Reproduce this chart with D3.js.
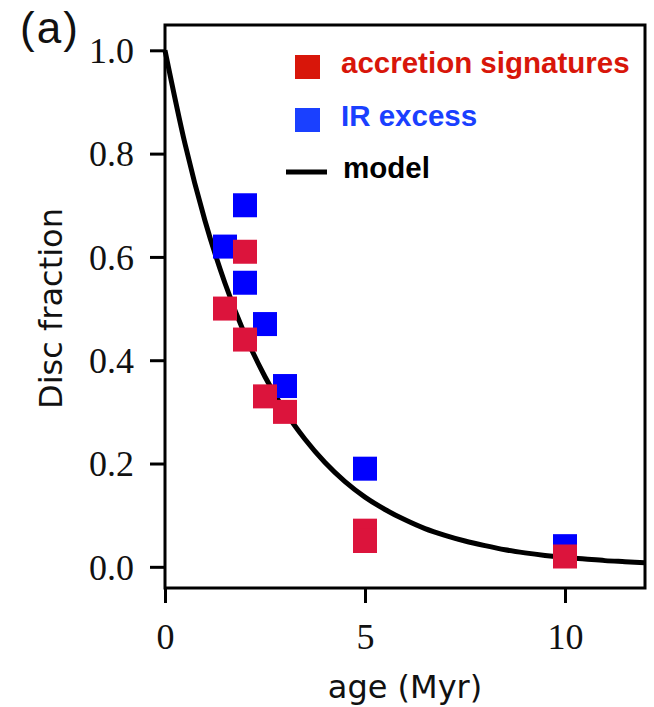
<!DOCTYPE html>
<html>
<head>
<meta charset="utf-8">
<script src="https://cdn.jsdelivr.net/npm/d3@7"></script>
<style>
  html, body { margin: 0; padding: 0; background: #fff; }
  svg { display: block; }
</style>
</head>
<body>
<svg id="chart" width="654" height="707"></svg>
<script>
// Disc fraction versus cluster age
const accretionAge = [1.5, 2.0, 2.0, 2.5, 3.0, 5.0, 5.0, 10.0];
const accretionFrac = [0.50, 0.61, 0.44, 0.33, 0.30, 0.07, 0.05, 0.02];

const irAge = [1.5, 2.0, 2.0, 2.5, 3.0, 5.0, 10.0];
const irFrac = [0.62, 0.70, 0.55, 0.47, 0.35, 0.19, 0.04];

// decay model sampled along age
const modelAge = [0, 0.5, 1, 1.5, 2, 2.5, 3, 3.5, 4, 4.5, 5, 5.5, 6, 6.5, 7, 7.5, 8, 8.5, 9, 9.5, 10, 10.5, 11, 11.5, 12];
const modelFrac = [1.000, 0.819, 0.670, 0.549, 0.449, 0.368, 0.301, 0.247, 0.202, 0.165, 0.135, 0.111, 0.091, 0.074, 0.061, 0.050, 0.041, 0.033, 0.027, 0.022, 0.018, 0.015, 0.012, 0.010, 0.008];

const xTicks = [0, 5, 10];
const yTicks = [0.0, 0.2, 0.4, 0.6, 0.8, 1.0];

const legendLabels = ["accretion signatures", "IR excess", "model"];

const svg = d3.select("#chart");
const plotLeft = 165, plotRight = 645, plotTop = 25, plotBottom = 588;

const x = d3.scaleLinear().domain([0, 12]).range([plotLeft, plotRight]);
const y = d3.scaleLinear().domain([-0.041, 1.049]).range([plotBottom, plotTop]);

const serif = "'Liberation Serif', 'Times New Roman', serif";
const sans = "'DejaVu Sans', sans-serif";
const helv = "'Liberation Sans', Arial, sans-serif";

// axes
const xAxis = d3.axisBottom(x).tickValues(xTicks).tickSize(15).tickPadding(8).tickFormat(d3.format("d"));
const yAxis = d3.axisLeft(y).tickValues(yTicks).tickSize(15).tickPadding(16).tickFormat(d3.format(".1f"));

const gx = svg.append("g").attr("transform", `translate(0,${plotBottom})`).call(xAxis);
const gy = svg.append("g").attr("transform", `translate(${plotLeft},0)`).call(yAxis);
[gx, gy].forEach(g => {
  g.select(".domain").remove();
  g.selectAll(".tick line").attr("stroke", "#000").attr("stroke-width", 3);
  g.selectAll(".tick text").attr("font-family", serif).attr("font-size", 36).attr("fill", "#111");
});
gx.selectAll(".tick text").attr("dy", null).attr("y", 61);
gy.selectAll(".tick text").attr("dy", "0.34em");

// model curve
const line = d3.line().x((d, i) => x(modelAge[i])).y(d => y(d)).curve(d3.curveMonotoneX);
svg.append("path")
  .datum(modelFrac)
  .attr("d", line)
  .attr("fill", "none")
  .attr("stroke", "#000")
  .attr("stroke-width", 5);

// markers: IR excess first, accretion drawn over it
const ms = 24;
svg.append("g").selectAll("rect")
  .data(irAge.map((a, i) => [a, irFrac[i]]))
  .join("rect")
  .attr("x", d => x(d[0]) - ms / 2)
  .attr("y", d => y(d[1]) - ms / 2)
  .attr("width", ms).attr("height", ms)
  .attr("fill", "#0000ff");

svg.append("g").selectAll("rect")
  .data(accretionAge.map((a, i) => [a, accretionFrac[i]]))
  .join("rect")
  .attr("x", d => x(d[0]) - ms / 2)
  .attr("y", d => y(d[1]) - ms / 2)
  .attr("width", ms).attr("height", ms)
  .attr("fill", "#dc143c");

// frame
svg.append("rect")
  .attr("x", plotLeft).attr("y", plotTop)
  .attr("width", plotRight - plotLeft).attr("height", plotBottom - plotTop)
  .attr("fill", "none").attr("stroke", "#000").attr("stroke-width", 3);

// legend
const legColors = ["#d8160a", "#1a40ff", "#000"];
const legBase = [73, 126, 178];
const leg = svg.append("g");
[0, 1].forEach(i => {
  leg.append("rect")
    .attr("x", 295).attr("y", legBase[i] - 18)
    .attr("width", 25).attr("height", 24)
    .attr("fill", legColors[i]);
});
leg.append("line")
  .attr("x1", 286).attr("x2", 327)
  .attr("y1", legBase[2] - 6).attr("y2", legBase[2] - 6)
  .attr("stroke", "#000").attr("stroke-width", 5);
legendLabels.forEach((t, i) => {
  leg.append("text")
    .attr("x", i === 2 ? 343 : 341).attr("y", legBase[i])
    .attr("font-family", helv)
    .attr("font-weight", "bold")
    .attr("font-size", 29.5)
    .attr("fill", legColors[i])
    .text(t);
});

// axis labels
svg.append("text")
  .attr("x", (plotLeft + plotRight) / 2).attr("y", 698)
  .attr("text-anchor", "middle")
  .attr("font-family", sans).attr("font-size", 32).attr("fill", "#111")
  .text("age (Myr)");

svg.append("text")
  .attr("transform", `translate(62,${(plotTop + plotBottom) / 2 + 2}) rotate(-90)`)
  .attr("text-anchor", "middle")
  .attr("font-family", sans).attr("font-size", 32).attr("fill", "#111")
  .text("Disc fraction");

// panel tag
svg.append("text")
  .attr("x", 20).attr("y", 43)
  .attr("font-family", helv)
  .attr("font-size", 44).attr("fill", "#111")
  .attr("textLength", 58).attr("lengthAdjust", "spacing")
  .text("(a)");
</script>
</body>
</html>
